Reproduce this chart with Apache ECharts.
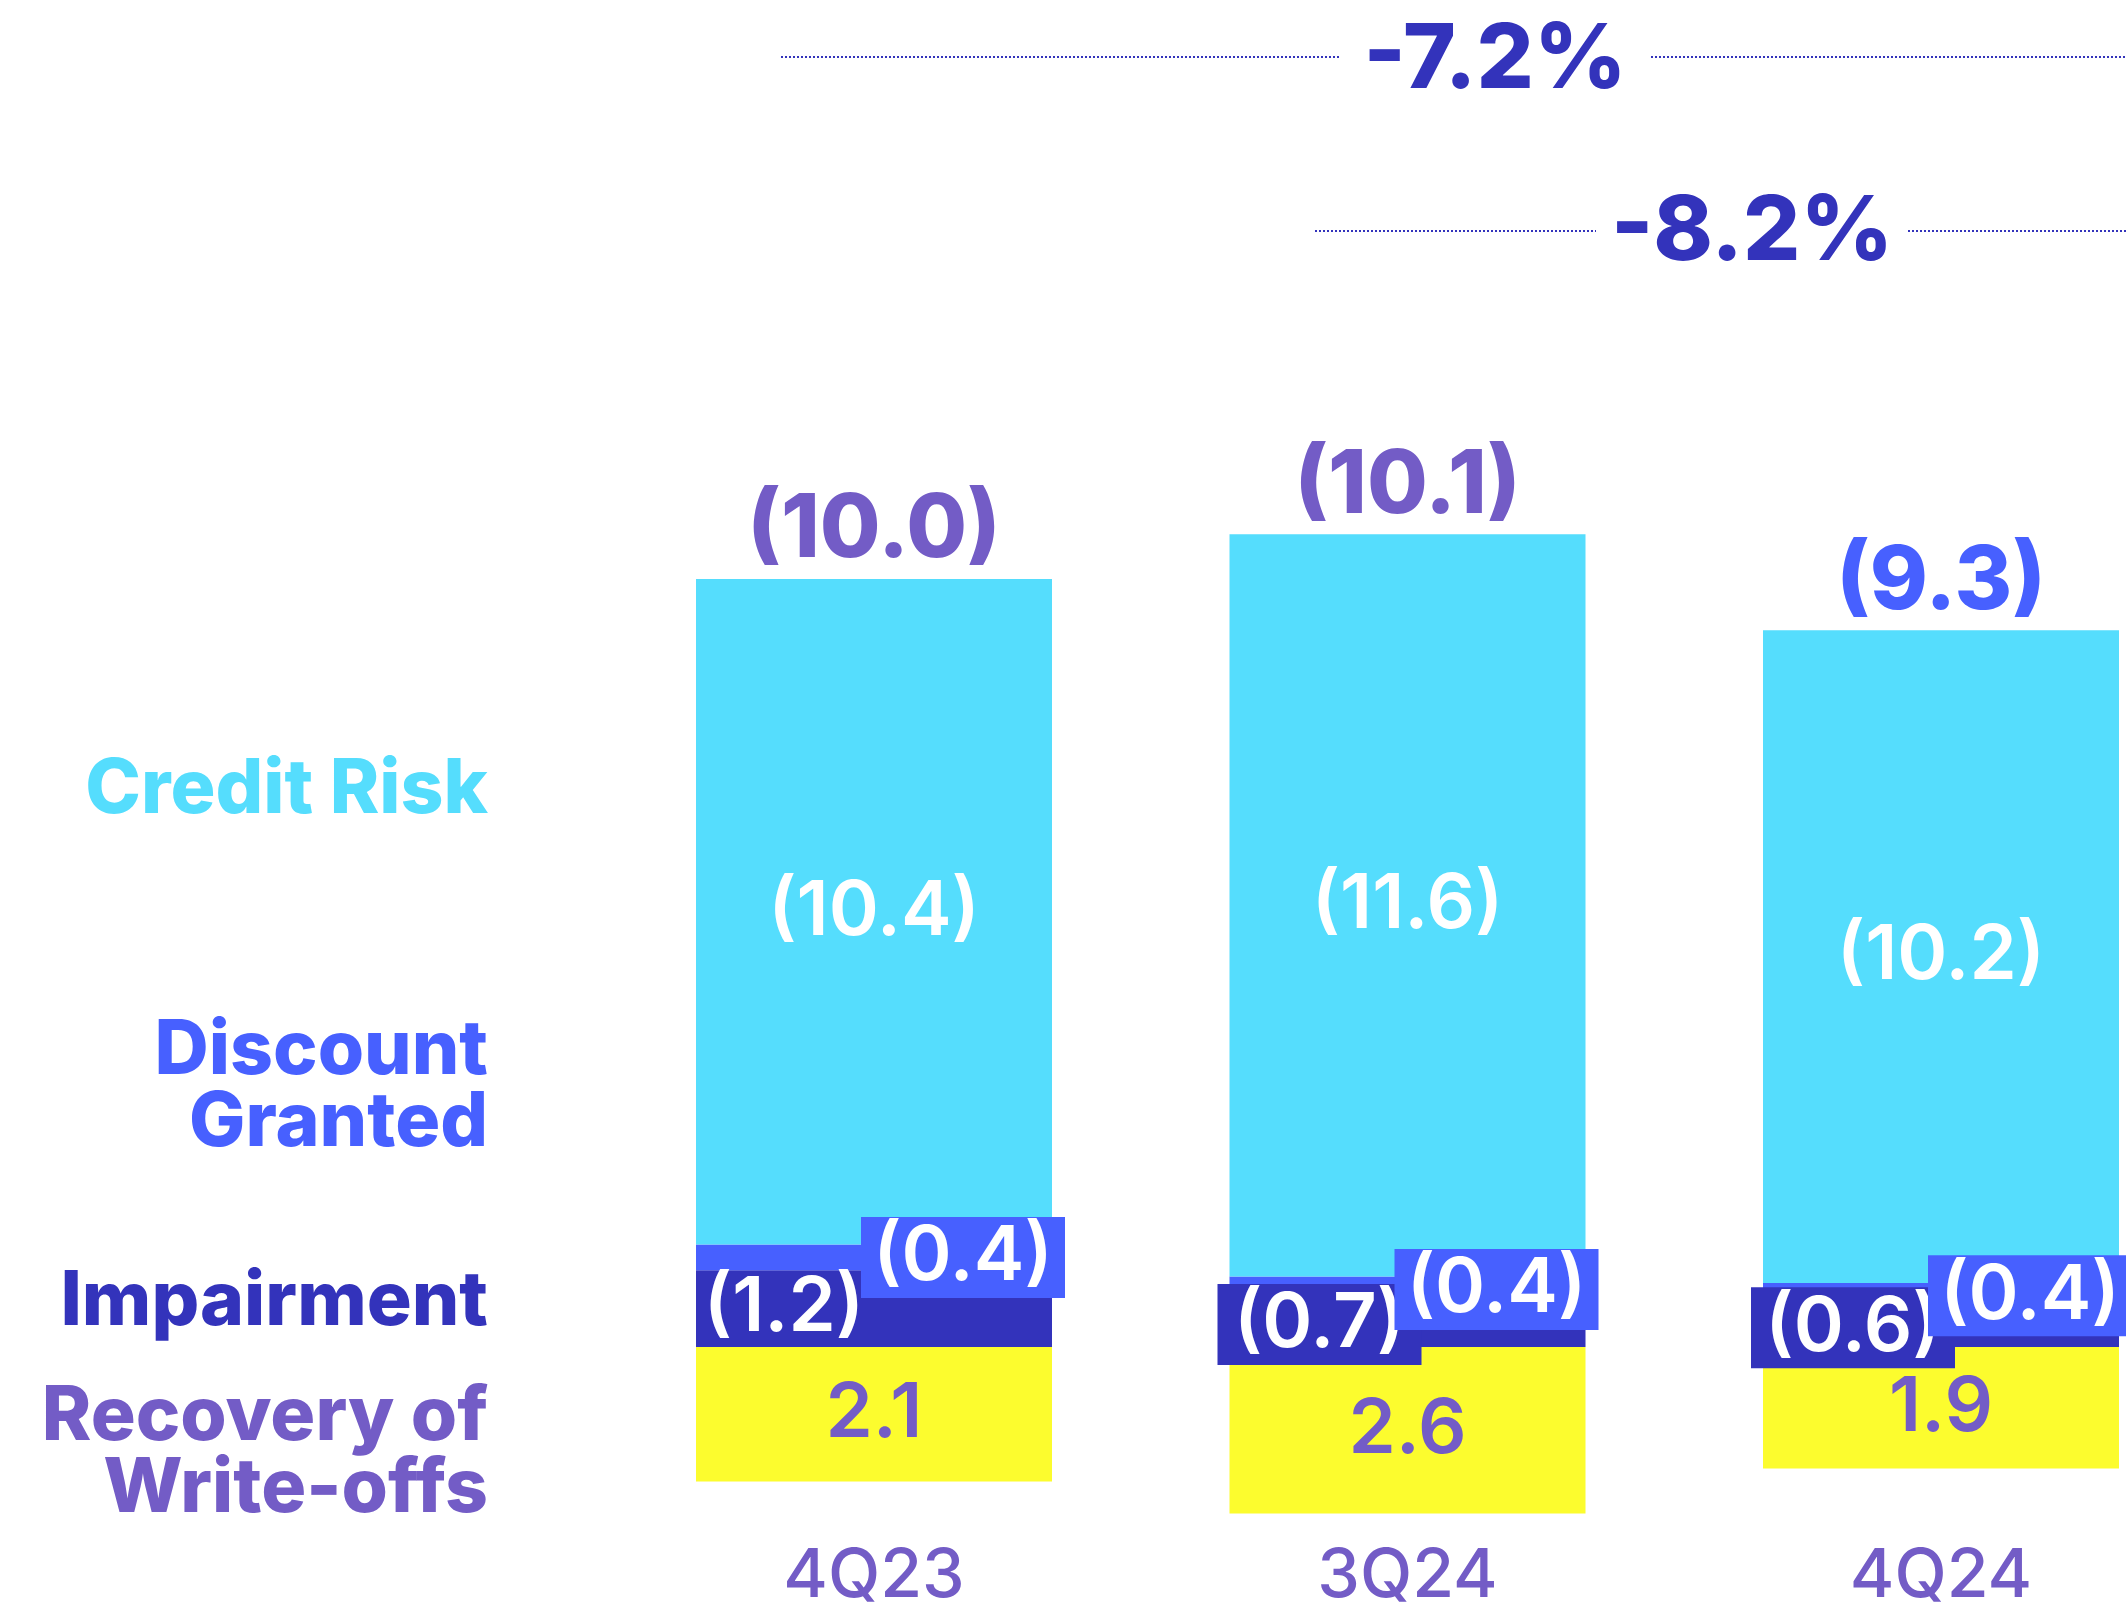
<!DOCTYPE html>
<html>
<head>
<meta charset="utf-8">
<title>Cost of Risk</title>
<script src="https://cdn.jsdelivr.net/npm/echarts@6/dist/echarts.min.js"></script>
<style>
  html, body { margin: 0; padding: 0; background: #ffffff; }
  #chart { width: 2126px; height: 1615px; }
</style>
</head>
<body>
<div id="chart"></div>
<script>
// Quarterly cost-of-risk components (R$ bn); negatives are expenses
const categories = ['4Q23', '3Q24', '4Q24'];
const recovery = [2.1, 2.6, 1.9];
const impairment = [-1.2, -0.7, -0.6];
const discount = [-0.4, -0.4, -0.4];
const creditRisk = [-10.4, -11.6, -10.2];
const netTotals = [-10.0, -10.1, -9.3];
const growthLabels = ['-7.2%', '-8.2%'];
const componentNames = ['Credit Risk', 'Discount\nGranted', 'Impairment', 'Recovery of\nWrite-offs'];

const FONT = 'Inter';
const C = {
  cyan: '#55DDFD',
  blue: '#4760FF',
  navy: '#3333BB',
  yellow: '#FCFC2E',
  purple: '#735CC6'
};

const fmt = v => v < 0 ? '(' + Math.abs(v).toFixed(1) + ')' : v.toFixed(1);
const negativeTops = categories.map((_, i) => impairment[i] + discount[i] + creditRisk[i]);
const totalColors = [C.purple, C.purple, C.blue];

const boxLabel = (bg, dx) => ({
  show: true,
  position: 'inside',
  offset: [dx, 0],
  color: '#ffffff',
  fontFamily: FONT,
  fontWeight: 600,
  fontSize: 76,
  backgroundColor: bg,
  width: 204,
  height: 81,
  lineHeight: 81,
  align: 'center',
  verticalAlign: 'middle',
  formatter: p => fmt(p.value)
});

const chart = echarts.init(document.getElementById('chart'), null, { renderer: 'canvas' });

const sideLabels = [
  { text: componentNames[0], y: 790, color: C.cyan },
  { text: componentNames[1], y: 1087, color: C.blue },
  { text: componentNames[2], y: 1302, color: C.navy },
  { text: componentNames[3], y: 1453, color: C.purple }
];

const graphics = [];
sideLabels.forEach(s => {
  graphics.push({
    type: 'text', x: 488, y: s.y,
    style: {
      text: s.text, fill: s.color, align: 'right', verticalAlign: 'middle',
      font: '800 75px ' + FONT, lineHeight: 72
    }
  });
});

// variation callouts with dotted guides
const callouts = [
  { text: growthLabels[0], cx: 1495, cy: 61, ly: 57, segs: [[781, 1340], [1651, 2126]] },
  { text: growthLabels[1], cx: 1752, cy: 233, ly: 231, segs: [[1315, 1596], [1908, 2126]] }
];
callouts.forEach(c => {
  graphics.push({
    type: 'text', x: c.cx, y: c.cy,
    style: { text: c.text, fill: C.navy, align: 'center', verticalAlign: 'middle', font: '800 90px ' + FONT }
  });
  c.segs.forEach(sg => {
    graphics.push({
      type: 'line',
      shape: { x1: sg[0], y1: c.ly, x2: sg[1], y2: c.ly },
      style: { stroke: C.navy, lineWidth: 2, lineDash: [2, 2] }
    });
  });
});

chart.setOption({
  animation: false,
  backgroundColor: '#ffffff',
  // category points sit on the grid's edges and middle; bars overflow it
  grid: { left: 874, width: 1067, top: 515, height: 1024, containLabel: false },
  xAxis: {
    type: 'category',
    data: categories,
    boundaryGap: false,
    axisLine: { show: false },
    axisTick: { show: false },
    axisLabel: { color: C.purple, fontFamily: FONT, fontSize: 68, fontWeight: 500, margin: 4 }
  },
  yAxis: {
    type: 'value',
    inverse: true,
    min: -13,
    max: 3,
    show: false,
    splitLine: { show: false }
  },
  series: [
    {
      name: 'Recovery of Write-offs', type: 'bar', stack: 'cor', barWidth: 356, clip: false,
      itemStyle: { color: C.yellow },
      label: {
        show: true, position: 'inside', color: C.purple, fontFamily: FONT,
        fontWeight: 600, fontSize: 76, formatter: p => fmt(p.value)
      },
      data: recovery
    },
    {
      name: 'Impairment', type: 'bar', stack: 'cor', barWidth: 356, clip: false,
      itemStyle: { color: C.navy },
      label: boxLabel(C.navy, -88),
      data: impairment.map((v, i) => i === 0
        ? { value: v, label: { backgroundColor: 'transparent', offset: [-90, 0] } }
        : v)
    },
    {
      name: 'Discount Granted', type: 'bar', stack: 'cor', barWidth: 356, clip: false,
      itemStyle: { color: C.blue },
      label: boxLabel(C.blue, 89),
      data: discount
    },
    {
      name: 'Credit Risk', type: 'bar', stack: 'cor', barWidth: 356, clip: false,
      itemStyle: { color: C.cyan },
      label: {
        show: true, position: 'inside', color: '#ffffff', fontFamily: FONT,
        fontWeight: 600, fontSize: 76, formatter: p => fmt(p.value)
      },
      data: creditRisk
    },
    {
      name: 'Total', type: 'scatter', symbolSize: 0, clip: false,
      itemStyle: { opacity: 1 },
      label: {
        show: true, position: 'top', distance: 4, fontFamily: FONT,
        fontWeight: 800, fontSize: 88, opacity: 1,
        formatter: p => fmt(netTotals[p.dataIndex])
      },
      data: negativeTops.map((v, i) => ({ value: v, label: { color: totalColors[i] } }))
    }
  ],
  graphic: graphics
});
</script>
</body>
</html>
